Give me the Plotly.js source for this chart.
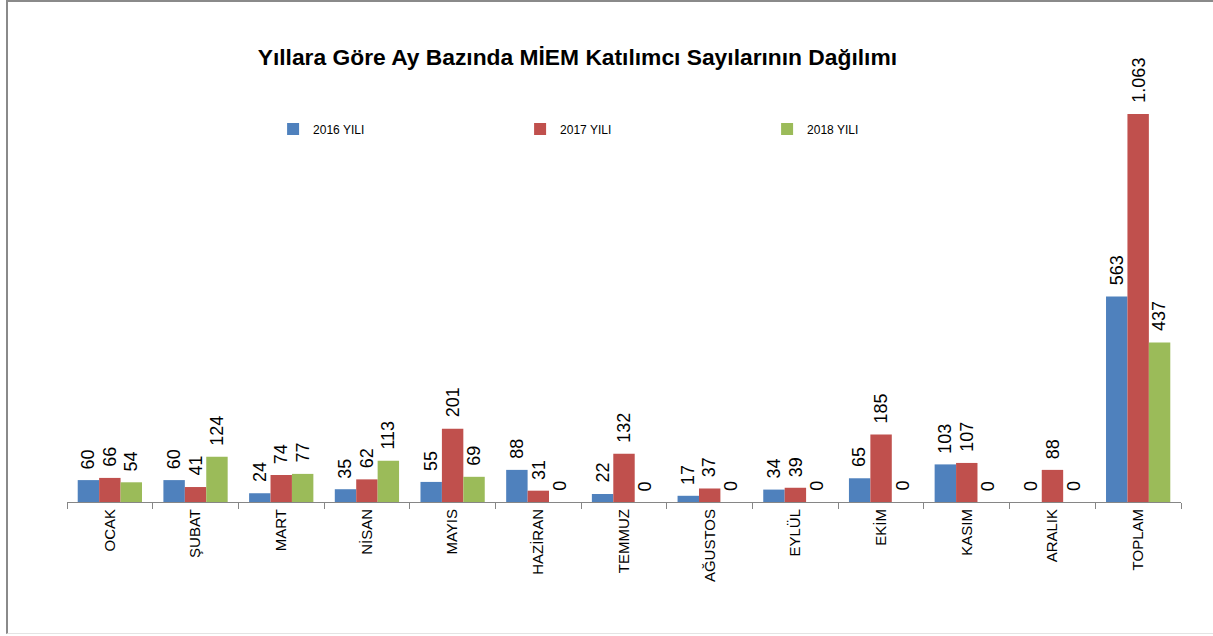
<!DOCTYPE html>
<html><head><meta charset="utf-8">
<script src="https://cdn.plot.ly/plotly-3.0.1.min.js"></script>
<style>
html,body{margin:0;padding:0;background:#fff;}
#frame{position:absolute;left:6px;top:0;width:1215px;height:634px;border-left:2px solid #8a8a8a;border-top:2px solid #8a8a8a;border-bottom:1px solid #e4e4e4;box-sizing:border-box;pointer-events:none;z-index:5;}
#chart{position:absolute;left:0;top:0;width:1213px;height:636px;}
</style>
</head><body>
<div id="chart"></div><div id="frame"></div>
<script>
const categories = ["OCAK","ŞUBAT","MART","NİSAN","MAYIS","HAZİRAN","TEMMUZ","AĞUSTOS","EYLÜL","EKİM","KASIM","ARALIK","TOPLAM"];
const y2016 = [60,60,24,35,55,88,22,17,34,65,103,0,563];
const y2017 = [66,41,74,62,201,31,132,37,39,185,107,88,1063];
const y2018 = [54,124,77,113,69,0,0,0,0,0,0,0,437];
const seriesNames = ["2016 YILI","2017 YILI","2018 YILI"];
const colors = ["#4F81BD","#C0504D","#9BBB59"];

const W = 1213, H = 636;
const mL = 67, mR = 32, plotTop = 80, base = 502;
const pxPerUnit = 388/1063;
const ymax = (base-plotTop)/pxPerUnit;
const bargap = 0.25;
const catW = (W-mL-mR)/categories.length;
const barW = catW*(1-bargap)/3;

const allSeries = [y2016,y2017,y2018];
const traces = allSeries.map((vals,i)=>({
  type:'bar', x:categories, y:vals, name:seriesNames[i],
  marker:{color:colors[i]}, hoverinfo:'skip'
}));

function fmt(v){ return String(v).replace(/\B(?=(\d{3})+(?!\d))/g,'.'); }

const annotations = [];
allSeries.forEach((vals,i)=>{
  vals.forEach((v,j)=>{
    annotations.push({
      x:categories[j], y:v, xref:'x', yref:'y', text:fmt(v), showarrow:false,
      textangle:-90, xanchor:'center', yanchor:'bottom', yshift:9,
      xshift:(i-1)*barW,
      font:{family:'Liberation Sans, Arial, sans-serif', size:18, color:'#000'}
    });
  });
});

const layout = {
  width:W, height:H,
  margin:{l:mL, r:mR, t:plotTop, b:H-base},
  paper_bgcolor:'#fff', plot_bgcolor:'#fff',
  barmode:'group', bargap:bargap, bargroupgap:0,
  title:{text:'Yıllara Göre Ay Bazında MİEM Katılımcı Sayılarının Dağılımı',
    x:0.476, xanchor:'center', y:0.91, yanchor:'middle',
    font:{family:'Liberation Sans, Arial, sans-serif', size:22.8, color:'#000', weight:'bold'}},
  showlegend:true,
  legend:{orientation:'h', x:0.185, xanchor:'left', y:0.884, yanchor:'middle',
    entrywidth:202, entrywidthmode:'pixels', itemwidth:30,
    font:{family:'Liberation Sans Narrow, Arial Narrow, Liberation Sans, sans-serif', size:12, color:'#000'},
    bgcolor:'rgba(0,0,0,0)'},
  xaxis:{type:'category', showgrid:false, showline:true, linecolor:'#868686', linewidth:1,
    ticks:'outside', ticklen:6, tickcolor:'#868686', tickson:'boundaries',
    tickangle:-90, tickfont:{family:'Liberation Sans, Arial, sans-serif', size:15, color:'#000'}},
  yaxis:{range:[0,ymax], visible:false, showgrid:false, zeroline:false},
  annotations:annotations
};

Plotly.newPlot('chart', traces, layout, {displayModeBar:false, staticPlot:true});
</script>
</body></html>
